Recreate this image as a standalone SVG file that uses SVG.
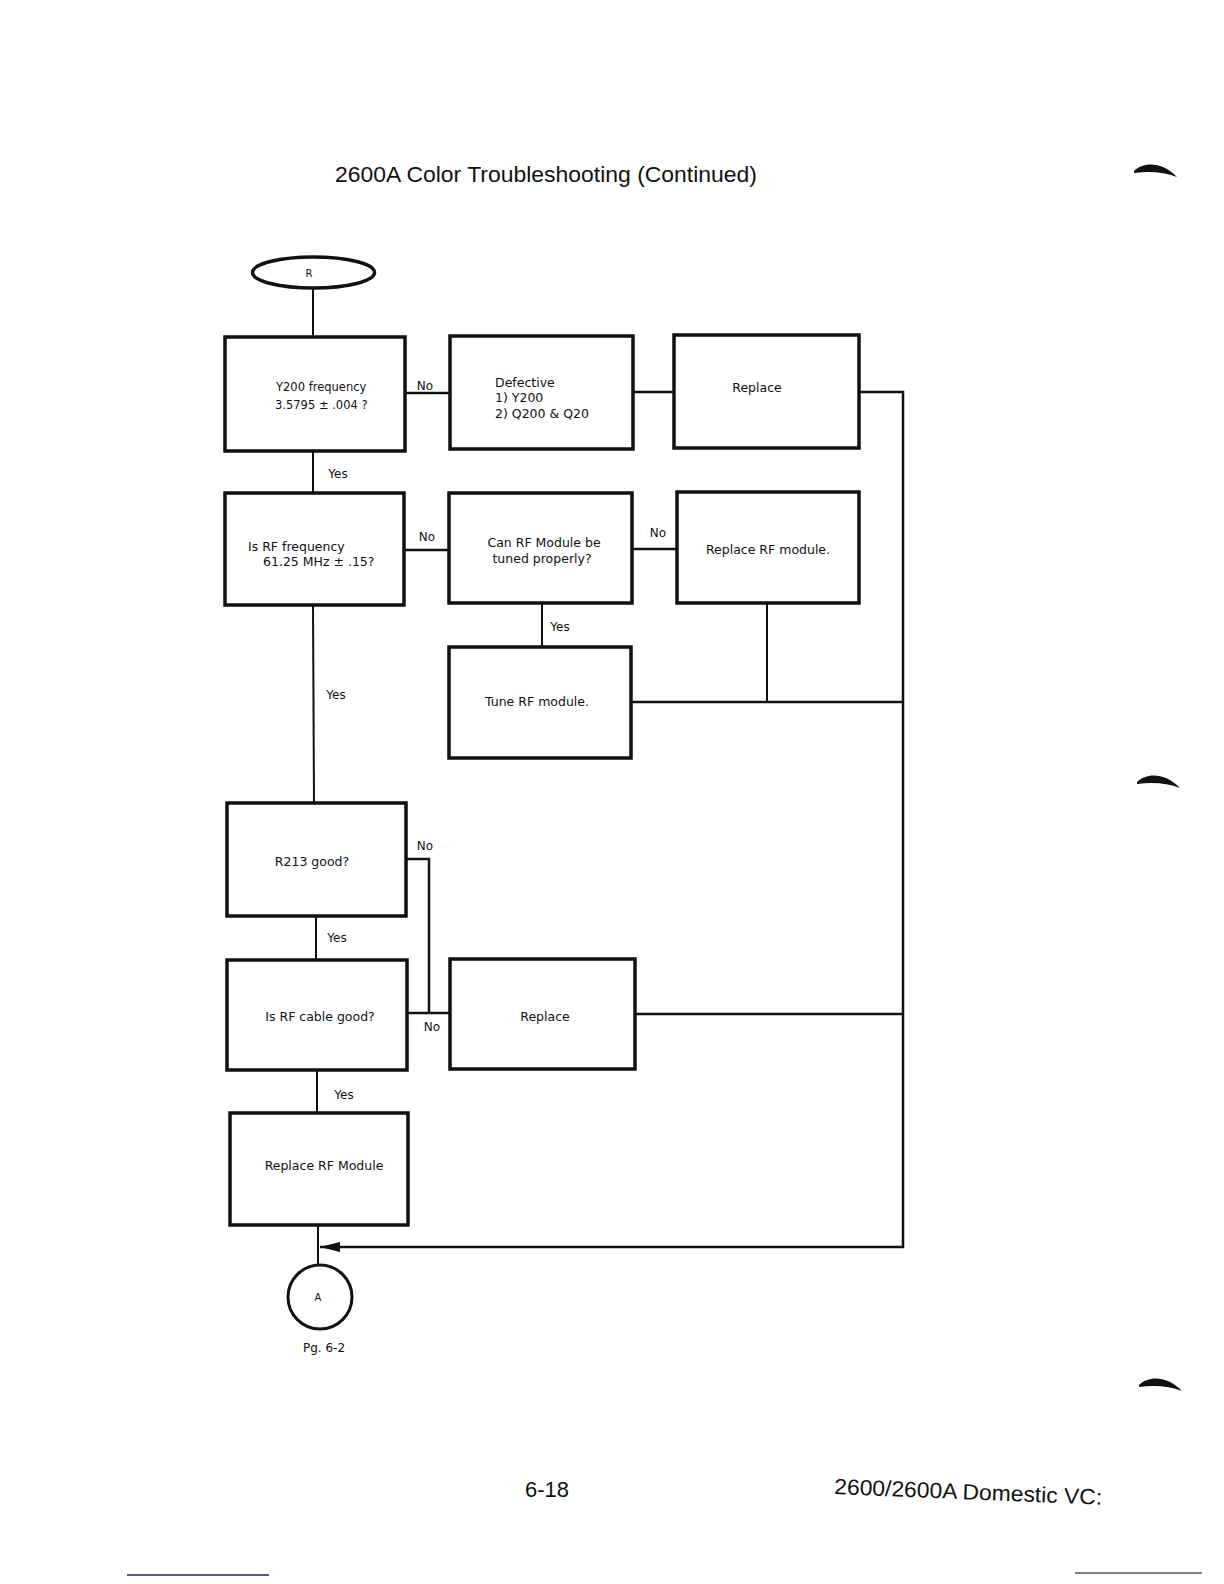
<svg xmlns="http://www.w3.org/2000/svg" width="1224" height="1584" viewBox="0 0 1224 1584">
<style>
.box{fill:#fff;stroke:#111;stroke-width:3.5}
.t{font-family:"DejaVu Sans","Liberation Sans",sans-serif;font-size:12.5px;fill:#111}
.lb{font-family:"DejaVu Sans","Liberation Sans",sans-serif;font-size:12px;fill:#111}
.c{text-anchor:middle}
.ln{fill:none;stroke:#111;stroke-width:2.5}
.thin{fill:none;stroke:#111;stroke-width:2}
.hdr{font-family:"Liberation Sans","DejaVu Sans",sans-serif;font-size:22px;fill:#111}
</style>
<defs>
<marker id="arr" markerWidth="20" markerHeight="10" refX="20" refY="5" orient="auto" markerUnits="userSpaceOnUse">
<path d="M0,0 L20,5 L0,10 Z" fill="#111"/>
</marker>
</defs>
<rect width="1224" height="1584" fill="#fff"/>
<text class="hdr" x="335" y="182" textLength="422" lengthAdjust="spacingAndGlyphs">2600A Color Troubleshooting (Continued)</text>

<g id="connectors">
<line class="thin" x1="313" y1="288" x2="313" y2="337"/>
<line class="thin" x1="313" y1="451" x2="313" y2="493"/>
<line class="ln" x1="405" y1="393" x2="450" y2="393"/>
<line class="ln" x1="633" y1="392" x2="674" y2="392"/>
<polyline class="ln" points="859,392 903,392 903,1247 320,1247" marker-end="url(#arr)"/>
<line class="ln" x1="404" y1="550" x2="449" y2="550"/>
<line class="ln" x1="632" y1="549" x2="677" y2="549"/>
<line class="thin" x1="542" y1="603" x2="542" y2="647"/>
<line class="thin" x1="767" y1="603" x2="767" y2="702"/>
<line class="ln" x1="631" y1="702" x2="903" y2="702"/>
<line class="thin" x1="313" y1="605" x2="314" y2="803"/>
<polyline class="ln" points="406,859 429,859 429,1013"/>
<line class="thin" x1="316" y1="916" x2="316" y2="960"/>
<line class="ln" x1="407" y1="1013" x2="450" y2="1013"/>
<line class="ln" x1="635" y1="1014" x2="903" y2="1014"/>
<line class="thin" x1="317" y1="1070" x2="317" y2="1113"/>
<line class="thin" x1="318" y1="1225" x2="318" y2="1265"/>
<text class="lb c" x="425" y="390">No</text>
<text class="lb c" x="338" y="478">Yes</text>
<text class="lb c" x="427" y="541">No</text>
<text class="lb c" x="658" y="537">No</text>
<text class="lb c" x="560" y="631">Yes</text>
<text class="lb c" x="336" y="699">Yes</text>
<text class="lb c" x="425" y="850">No</text>
<text class="lb c" x="337" y="942">Yes</text>
<text class="lb c" x="432" y="1031">No</text>
<text class="lb c" x="344" y="1099">Yes</text>
</g>

<g id="start">
<ellipse cx="313.5" cy="272.5" rx="61" ry="15.5" fill="#fff" stroke="#111" stroke-width="3.5"/>
<text class="lb c" x="309" y="277" style="font-size:10px">R</text>
</g>

<g id="y200">
<rect class="box" x="225" y="337" width="180" height="114"/>
<text class="t" x="276" y="391" style="font-size:11.5px">Y200 frequency</text>
<text class="t" x="275" y="409" style="font-size:11.5px">3.5795 ± .004 ?</text>
</g>

<g id="defective">
<rect class="box" x="450" y="336" width="183" height="113"/>
<text class="t" x="495" y="387">Defective</text>
<text class="t" x="495" y="402">1) Y200</text>
<text class="t" x="495" y="418">2) Q200 &amp; Q20</text>
</g>

<g id="replace1">
<rect class="box" x="674" y="335" width="185" height="113"/>
<text class="t c" x="757" y="392">Replace</text>
</g>

<g id="rffreq">
<rect class="box" x="225" y="493" width="179" height="112"/>
<text class="t" x="248" y="551">Is RF frequency</text>
<text class="t" x="263" y="566">61.25 MHz ± .15?</text>
</g>

<g id="tune">
<rect class="box" x="449" y="493" width="183" height="110"/>
<text class="t c" x="544" y="547">Can RF Module be</text>
<text class="t c" x="542" y="563">tuned properly?</text>
</g>

<g id="replacerf">
<rect class="box" x="677" y="492" width="182" height="111"/>
<text class="t c" x="768" y="554">Replace RF module.</text>
</g>

<g id="tunerf">
<rect class="box" x="449" y="647" width="182" height="111"/>
<text class="t c" x="537" y="706">Tune RF module.</text>
</g>

<g id="r213">
<rect class="box" x="227" y="803" width="179" height="113"/>
<text class="t c" x="312" y="866">R213 good?</text>
</g>

<g id="cable">
<rect class="box" x="227" y="960" width="180" height="110"/>
<text class="t c" x="320" y="1021">Is RF cable good?</text>
</g>

<g id="replace2">
<rect class="box" x="450" y="959" width="185" height="110"/>
<text class="t c" x="545" y="1021">Replace</text>
</g>

<g id="replacerf2">
<rect class="box" x="230" y="1113" width="178" height="112"/>
<text class="t c" x="324" y="1170">Replace RF Module</text>
</g>

<g id="endA">
<circle cx="320" cy="1297" r="32" fill="#fff" stroke="#111" stroke-width="3"/>
<text class="lb c" x="318" y="1301" style="font-size:10px">A</text>
<text class="lb c" x="324" y="1352">Pg. 6-2</text>
</g>

<text class="hdr" x="525" y="1497">6-18</text>
<text class="hdr" x="834" y="1494" transform="rotate(2.3 834 1494)" textLength="268" lengthAdjust="spacingAndGlyphs">2600/2600A Domestic VC:</text>

<path d="M1134,171 C1144,161 1163,162 1177,177 C1164,172 1150,171 1134,173 Z" fill="#111"/>
<path d="M1137,782 C1147,772 1166,773 1180,788 C1167,783 1153,782 1137,784 Z" fill="#111"/>
<path d="M1139,1385 C1149,1375 1168,1376 1182,1391 C1169,1386 1155,1385 1139,1387 Z" fill="#111"/>
<line x1="127" y1="1575" x2="269" y2="1575" stroke="#1a1a80" stroke-width="1.5"/>
<line x1="1075" y1="1573" x2="1202" y2="1573" stroke="#555" stroke-width="1.5"/>
</svg>
